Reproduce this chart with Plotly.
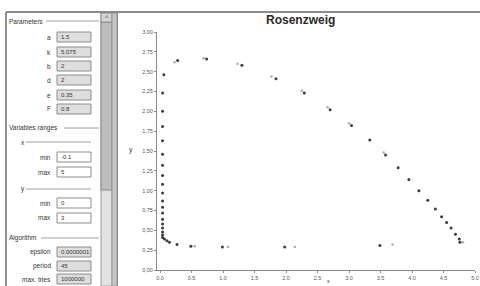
import plotly.graph_objects as go

W, H = 480, 286

# ---------------- data ----------------
x_dark = [0.06, 0.04, 0.04, 0.04, 0.04, 0.04, 0.04, 0.04, 0.04, 0.04, 0.04, 0.04, 0.04,
          0.04, 0.04, 0.04, 0.04, 0.04, 0.04,
          0.07, 0.11, 0.15, 0.27, 0.49, 0.99, 1.98, 3.49,
          0.28, 0.74, 1.30, 1.84, 2.29, 2.70, 3.04, 3.33, 3.58, 3.78, 3.95, 4.11,
          4.25, 4.37, 4.47, 4.55, 4.62, 4.69, 4.75, 4.76]
y_dark = [2.46, 2.23, 2.00, 1.81, 1.63, 1.46, 1.32, 1.19, 1.08, 0.97, 0.87, 0.79, 0.72,
          0.64, 0.58, 0.53, 0.48, 0.44, 0.41,
          0.39, 0.37, 0.35, 0.32, 0.30, 0.29, 0.29, 0.31,
          2.64, 2.66, 2.58, 2.41, 2.23, 2.02, 1.82, 1.64, 1.45, 1.29, 1.14, 1.00,
          0.88, 0.77, 0.67, 0.60, 0.53, 0.45, 0.39, 0.35]

x_light = [0.23, 0.69, 1.23, 1.77, 2.25, 2.66, 3.00, 3.55, 0.55, 1.08, 2.14, 3.69, 4.81]
y_light = [2.62, 2.67, 2.60, 2.44, 2.26, 2.05, 1.85, 1.48, 0.30, 0.29, 0.29, 0.32, 0.35]

x_tick_vals = [0.0, 0.5, 1.0, 1.5, 2.0, 2.5, 3.0, 3.5, 4.0, 4.5, 5.0]
x_tick_labels = ["0.0", "0.5", "1.0", "1.5", "2.0", "2.5", "3.0", "3.5", "4.0", "4.5", "5.0"]
y_tick_vals = [0.0, 0.25, 0.5, 0.75, 1.0, 1.25, 1.5, 1.75, 2.0, 2.25, 2.5, 2.75, 3.0]
y_tick_labels = ["0,00", "0,25", "0,50", "0,75", "1,00", "1,25", "1,50", "1,75",
                 "2,00", "2,25", "2,50", "2,75", "3,00"]

param_labels = ["a", "k", "b", "d", "e", "F"]
param_values = ["1.5", "5.075", "2", "2", "0.35", "0.8"]
x_range_labels = ["min", "max"]
x_range_values = ["-0.1", "5"]
y_range_labels = ["min", "max"]
y_range_values = ["0", "3"]
algo_labels = ["epsilon", "period", "max. tries"]
algo_values = ["0.0000001", "45", "1000000"]

title_text = "Rosenzweig"

# ---------------- helpers ----------------
def fx(p):
    return p / W

def fy(p):
    return 1 - p / H

FONT = "Liberation Sans, Arial, sans-serif"
shapes = []
annotations = []

def rect(x0, y0, x1, y1, fill, line="#8c8c8c", lw=1):
    shapes.append(dict(type="rect", xref="paper", yref="paper",
                       x0=fx(x0), x1=fx(x1), y0=fy(y1), y1=fy(y0),
                       fillcolor=fill, line=dict(color=line, width=lw), layer="below"))

def hline(x0, x1, y, color="#a0a0a0", lw=1):
    shapes.append(dict(type="line", xref="paper", yref="paper",
                       x0=fx(x0), x1=fx(x1), y0=fy(y), y1=fy(y),
                       line=dict(color=color, width=lw)))

def vline(x, y0, y1, color="#a0a0a0", lw=1):
    shapes.append(dict(type="line", xref="paper", yref="paper",
                       x0=fx(x), x1=fx(x), y0=fy(y0), y1=fy(y1),
                       line=dict(color=color, width=lw)))

def text(x, y, s, anchor="left", size=6.5, color="#333", bold=False, yanchor="middle"):
    annotations.append(dict(xref="paper", yref="paper", x=fx(x), y=fy(y),
                            text=("<b>%s</b>" % s) if bold else s, showarrow=False,
                            xanchor=anchor, yanchor=yanchor,
                            font=dict(family=FONT, size=size, color=color)))

def field(y, label, value, fill):
    text(53, y, label, anchor="right")
    rect(57, y - 5, 91, y + 5, fill, line="#8c8c8c")
    text(58.5, y, value, anchor="left", size=6)

# ---------------- left panel ----------------
vline(6, 12, 286, color="#6a6a6a", lw=1.5)
hline(6, 480, 12, color="#8a8a8a", lw=2)

text(7, 21, "Parameters")
hline(46, 99, 21)
param_y = [37, 52, 66, 80, 95, 109]
for yy, lab, val in zip(param_y, param_labels, param_values):
    field(yy, lab, val, "#dedede")

text(7, 128, "Variables ranges")
hline(64, 99, 128)
text(19, 142, "x")
hline(26, 91, 142)
for yy, lab, val in zip([157, 172], x_range_labels, x_range_values):
    field(yy, lab, val, "#ffffff")
text(19, 189, "y")
hline(26, 91, 189)
for yy, lab, val in zip([203, 218], y_range_labels, y_range_values):
    field(yy, lab, val, "#ffffff")

text(7, 238, "Algorithm")
hline(41, 99, 238)
for yy, lab, val in zip([252, 266, 279], algo_labels, algo_values):
    field(yy, lab, val, "#dedede")

# scrollbar
rect(101, 13, 112, 286, "#e2e2e2", line="#9a9a9a")
rect(101, 22, 112, 190, "#bdbdbd", line="#8a8a8a")
rect(101, 13, 112, 22, "#d4d4d4", line="#8a8a8a")
text(106.5, 17, "^", anchor="center", size=7, color="#444")
rect(112, 13, 117, 286, "#c6c6c6", line="#999999")
vline(117.5, 13, 286, color="#8a8a8a", lw=1)

# title and axis titles
text(300, 20, title_text, anchor="center", size=12, color="#2a2a2a", bold=True)
text(131, 150, "y", anchor="center", size=7, color="#333")
text(328, 286, "x", anchor="center", size=5.5, color="#333", yanchor="bottom")

# ---------------- chart ----------------
fig = go.Figure()
fig.add_trace(go.Scatter(x=x_light, y=y_light, mode="markers",
                         marker=dict(size=2.5, color="#ababab"), hoverinfo="skip"))
fig.add_trace(go.Scatter(x=x_dark, y=y_dark, mode="markers",
                         marker=dict(size=3, color="#3c3c3c"), hoverinfo="skip"))

axis_common = dict(showgrid=False, zeroline=False, showline=True, linecolor="#8a8a8a",
                   linewidth=1, ticks="outside", ticklen=2, tickcolor="#8a8a8a",
                   tickfont=dict(family=FONT, size=5.5, color="#555"), automargin=False)

fig.update_layout(
    width=W, height=H,
    margin=dict(l=0, r=0, t=0, b=0),
    paper_bgcolor="white", plot_bgcolor="white",
    showlegend=False,
    shapes=shapes, annotations=annotations,
    xaxis=dict(domain=[157 / W, 475 / W], range=[-0.048, 5.0],
               tickvals=x_tick_vals, ticktext=x_tick_labels, **axis_common),
    yaxis=dict(domain=[1 - 270 / H, 1 - 32 / H], range=[0, 3.0],
               tickvals=y_tick_vals, ticktext=y_tick_labels, **axis_common),
)

fig.write_html("out.html", config={"displayModeBar": False},
               post_script="document.body.style.margin='0px';document.body.style.overflow='hidden';")
